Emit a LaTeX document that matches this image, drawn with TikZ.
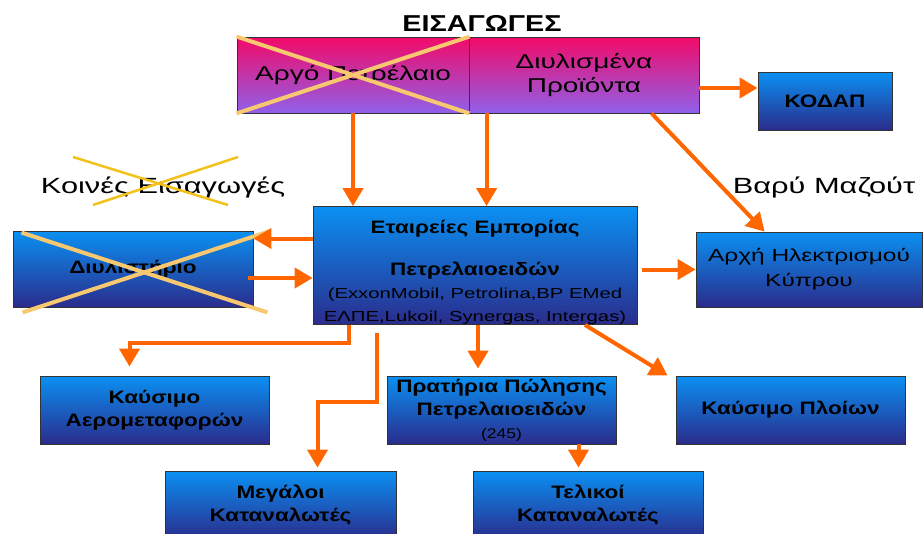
\documentclass[tikz,border=0pt]{standalone}
\usepackage{fontspec}
\setmainfont{Liberation Sans}[FakeStretch=1.4]
\newfontfamily\heavy{Liberation Sans}[FakeStretch=1.25]
\usetikzlibrary{arrows.meta, positioning}

\definecolor{arrorange}{HTML}{FF6600}
\definecolor{boxtop}{HTML}{0A90F2}
\definecolor{boxbot}{HTML}{2A2C8C}
\definecolor{pinktop}{HTML}{F20A68}
\definecolor{pinkbot}{HTML}{9060EA}
\definecolor{crossyel}{HTML}{F8C870}
\definecolor{crossgold}{HTML}{F2C21A}

\begin{document}
\begin{tikzpicture}[
        x=1pt, y=-1pt,
        >={Triangle[width=20pt,length=18pt]},
        box/.style={draw=black!80, line width=0.8pt, top color=boxtop, bottom color=boxbot,
            align=center, inner sep=0pt, font=\heavy\bfseries\fontsize{18}{23}\selectfont},
        imp/.style={box, top color=pinktop, bottom color=pinkbot, font=\normalfont\fontsize{20}{24}\selectfont},
        e/.style={->, line width=4pt, draw=arrorange},
        cross/.style={line width=4pt, draw=crossyel},
        lbl/.style={font=\normalfont\fontsize{22}{24}\selectfont, inner sep=0pt}
    ]
        \useasboundingbox (0,0) rectangle (923,533);
        \fill[white] (0,0) rectangle (923,533);
        \clip (0,0) rectangle (923,533);

        \node[lbl, font=\heavy\bfseries\fontsize{23}{24}\selectfont] (title) at (482,23) {ΕΙΣΑΓΩΓΕΣ};
        \node[imp, minimum width=232pt, minimum height=76pt] (argo) at (353,75) {Αργό Πετρέλαιο};
        \node[imp, minimum width=230pt, minimum height=76pt] (refined) at (584,75) {Διυλισμένα\\Προϊόντα};
        \node[box, minimum width=134pt, minimum height=58pt] (kodap) at (825,101) {ΚΟΔΑΠ};

        \node[lbl] (common) at (163,187) {Κοινές Εισαγωγές};
        \node[lbl] (fueloil) at (824,187) {Βαρύ Μαζούτ};

        \node[box, minimum width=324pt, minimum height=117pt] (trade) at (475,265.5)
            {\rule{0pt}{27pt}Εταιρείες Εμπορίας\\[19pt]Πετρελαιοειδών\\[0pt]
             \normalfont\fontsize{14.5}{18}\selectfont (ExxonMobil, Petrolina,BP EMed\\
             \normalfont\fontsize{14.5}{18}\selectfont ΕΛΠΕ,Lukoil, Synergas, Intergas)};
        \node[box, minimum width=240pt, minimum height=76pt] (refinery) at (133,269) {Διυλιστήριο};
        \node[box, minimum width=226pt, minimum height=75pt, font=\normalfont\fontsize{17.5}{25}\selectfont] (eac) at (809,269.5)
            {Αρχή Ηλεκτρισμού\\Κύπρου};

        \node[box, minimum width=229pt, minimum height=68pt] (aviation) at (154.5,410) {Καύσιμο\\Αερομεταφορών};
        \node[box, minimum width=229pt, minimum height=68pt] (stations) at (501.5,410)
            {Πρατήρια Πώλησης\\Πετρελαιοειδών\\\mdseries\fontsize{14}{16}\selectfont (245)};
        \node[box, minimum width=229pt, minimum height=68pt] (ships) at (790.5,410) {Καύσιμο Πλοίων};
        \node[box, minimum width=231pt, minimum height=68pt] (large) at (280.5,505) {Μεγάλοι\\Καταναλωτές};
        \node[box, minimum width=230pt, minimum height=68pt] (final) at (588,505) {Τελικοί\\Καταναλωτές};

        % crossed out
        \draw[cross] (argo.north west) -- (argo.south east);
        \draw[cross] (argo.south west) -- (argo.north east);
        \draw[cross] ([xshift=9pt,yshift=-2pt]refinery.north west) -- ([xshift=14pt,yshift=-5pt]refinery.south east);
        \draw[cross] ([xshift=10pt,yshift=-5pt]refinery.south west) -- ([xshift=15pt,yshift=-1pt]refinery.north east);
        \draw[cross, draw=crossgold, line width=2.5pt] (73,157) -- (228,205);
        \draw[cross, draw=crossgold, line width=2.5pt] (93,205) -- (238,157);

        \draw[e] (argo.south) -- (argo.south |- trade.north);
        \draw[e] ([xshift=18pt]refined.south west) -- ([xshift=18pt]refined.south west |- trade.north);
        \draw[e] ([yshift=-13pt]refined.east) -- ([yshift=-13pt]refined.east -| kodap.west);
        \draw[e] ([xshift=183pt]refined.south west) -- ([xshift=69pt]eac.north west);
        \draw[e] ([yshift=27pt]trade.west) -- ([yshift=27pt]trade.west -| refinery.east);
        \draw[e] ([yshift=-9pt,xshift=-5pt]refinery.east) -- ([yshift=-9pt]refinery.east -| trade.west);
        \draw[e] ([xshift=5pt]eac.west -| trade.east) -- (eac.west);
        \draw[e] ([xshift=-126pt]trade.south) -- ++(0,18) -| ([xshift=-25pt,yshift=9pt]aviation.north);
        \draw[e] ([xshift=-98pt,yshift=-8pt]trade.south) -- ++(0,69) -| ([xshift=37pt,yshift=3pt]large.north);
        \draw[e] ([xshift=3pt]trade.south) -- ([xshift=3pt,yshift=7pt]trade.south |- stations.north);
        \draw[e] ([xshift=110pt]trade.south) -- ([xshift=-8pt]ships.north west);
        \draw[e] ([xshift=77pt]stations.south) -- ([xshift=77pt,yshift=3pt]stations.south |- final.north);
    \end{tikzpicture}
\end{document}
